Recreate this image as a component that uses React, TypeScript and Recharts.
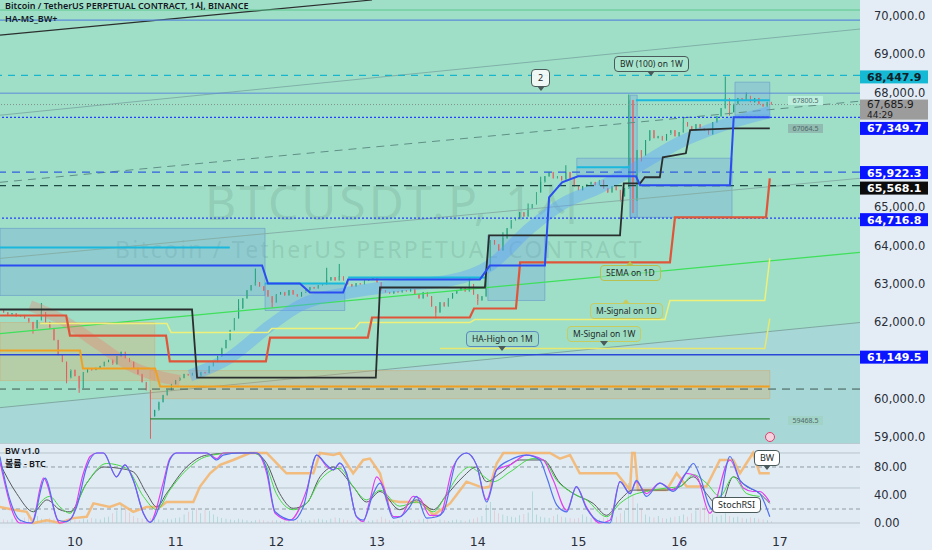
import React from "react";
import {
  ComposedChart,
  Bar,
  Line,
  Area,
  XAxis,
  YAxis,
  ReferenceLine,
  ReferenceArea,
  Cell,
} from "recharts";

// ---- price data (1h candles, hour 0 = day 10 00:00) ----
const firstOpen = 62300;
const closes = [
  62250, 62200, 62230, 62150, 62180, 62100, 62000, 61840, 62050, 62250,
  62000, 61840, 61530, 61140, 60960, 60540, 60750, 60590, 60280, 60690,
  60770, 60750, 60800, 60850, 60960, 61010, 60900, 61110, 61220, 61060,
  60960, 60800, 60640, 60430, 60220, 59540, 59700, 59910, 60090, 60220,
  60380, 60480, 60540, 60640, 60610, 60670, 60590, 60690, 60670, 60850,
  60960, 61110, 61320, 61530, 61790, 62100, 62360, 62620, 62830, 62960,
  63040, 62930, 62830, 62670, 62510, 62720, 62780, 62700, 62830, 62720,
  62670, 62780, 62830, 62910, 62880, 62960, 62990, 63090, 63170, 63090,
  63190, 63090, 62990, 62930, 63010, 62990, 63090, 63110, 63170, 63040,
  62830, 62780, 62750, 62800, 62780, 62830, 62800, 62860, 62720, 62620,
  62780, 62670, 62410, 62250, 62510, 62410, 62620, 62750, 62830, 62910,
  62800, 62990, 62720, 62570, 62670, 63350, 64130, 64030, 63870, 64190,
  64450, 64660, 64710, 64870, 64760, 64970, 65080, 65390, 65660, 65810,
  65920, 65760, 65810, 65710, 65920, 65760, 65550, 65450, 65550, 65600,
  65660, 65580, 65710, 65500, 65390, 65550, 65450, 65290, 65500, 67800,
  65180, 66490, 66360, 66750, 67010, 66810, 66860, 66750, 66910, 67010,
  66860, 66960, 67220, 67120, 67010, 67170, 67070, 67010, 66910, 67220,
  67380, 67590, 67850, 67490, 67700, 67850, 67800, 67910, 67750, 67850,
  67700, 67640, 67750, 67686,
];
const wickHigh: Record<number, number> = {
  9: 62500, 56: 62600, 60: 63400, 77: 63420, 80: 63520, 111: 63150, 115: 63400,
  119: 64350, 125: 65100, 128: 65800, 134: 66100, 149: 67950, 162: 67350,
  172: 68420, 177: 68000,
};
const wickLow: Record<number, number> = {
  7: 61700, 15: 60400, 18: 60150, 35: 58950, 64: 62380, 103: 62100, 113: 62450,
  147: 65150, 150: 64850, 152: 66200, 173: 67400,
};
const volumes = [
  5, 4, 6, 7, 5, 8, 9, 7, 10, 6, 5, 7, 6, 5, 4, 5, 6,
  5, 4, 6, 5, 7, 6, 5, 8, 9, 14, 18, 26, 22, 15, 10, 7, 6, 5, 7, 6, 5, 4, 6, 5,
  7, 8, 12, 16, 18, 21, 14, 19, 17, 12, 9, 7, 6, 5, 4, 6, 5, 4, 3, 4, 5, 4, 3, 4,
  4, 3, 5, 4, 3, 4, 5, 3, 4, 5, 6, 5, 4, 6, 8, 7, 5, 4, 3, 4, 5, 4, 3, 4,
  5, 9, 6, 4, 3, 4, 5, 4, 3, 4, 5, 6, 5, 4, 3, 5, 4, 3, 4, 5, 4, 3, 5, 6,
  8, 10, 26, 30, 18, 14, 12, 10, 9, 8, 11, 13, 15, 45, 12, 9, 8, 7, 10, 12, 9, 8, 7, 6,
  7, 12, 9, 7, 6, 5, 8, 7, 6, 9, 14, 18, 57, 40, 28, 20, 12, 9, 8, 10, 7, 6, 8, 9,
  10, 12, 9, 14, 18, 22, 25, 16, 12, 9, 11, 14, 10, 8, 9, 7, 6, 8, 7, 6, 5, 4, 3,
];

const dayTicks = [0, 24, 48, 72, 96, 120, 144, 168];
const dayLabels = ["10", "11", "12", "13", "14", "15", "16", "17"];
const priceTicks = [59000, 60000, 62000, 63000, 64000, 65000, 68000, 69000, 70000];
const oscTicks = [0, 40, 80];

// ---- indicator lines [hour, price] ----
const blackLine = [
  [-17.87, 62329], [27.9, 62329], [29.1, 60549], [71.7, 60549], [72.7, 62905],
  [97.7, 62905], [98.7, 64267], [129.9, 64267], [130.8, 65628], [134.7, 65628],
  [135.8, 65786], [139.4, 65786], [140.1, 66309], [145.6, 66413], [146.6, 67016],
  [156.8, 67064.5], [165.6, 67064.5],
];
const redLine = [
  [-17.87, 62172], [-2.1, 62172], [-1.2, 61649], [21.7, 61649], [22.6, 60974],
  [45.5, 60974], [46.5, 61596], [69.8, 61596], [70.8, 62120], [94.1, 62120],
  [95.1, 62355], [105.1, 62355], [106.1, 63560], [141.8, 63560], [143, 64738],
  [164.7, 64738], [165.6, 65759],
];
const signal1D = [
  [-8.3, 61963], [21.9, 61963], [22.9, 61727], [46, 61727], [46.9, 61832],
  [66.7, 61832], [67.9, 61989], [94.1, 61989], [95.3, 62068], [140.6, 62068],
  [141.8, 62565], [164.4, 62565], [165.6, 63665],
];
const signal1W = [[87, 61308], [164.4, 61308], [165.6, 62094]];
const orangeLine = [
  [-17.87, 61256], [1.2, 61256], [1.9, 60785], [19.1, 60785], [20.3, 60314], [165.6, 60314],
];
const blueLine = [
  [-17.87, 63481], [44.6, 63481], [46, 63010], [53.6, 63010], [56, 62774],
  [63.9, 62774], [65.1, 63115], [96.5, 63115], [98.9, 63481], [112, 63481],
  [113, 65262], [116.1, 65654], [119.9, 65811], [133.7, 65811], [134.7, 65576],
  [156.1, 65576], [157, 67356], [165.6, 67356],
];
const blueRibbon = [
  [27.4, 60602], [36.9, 61073], [46.5, 61910], [53.6, 62434], [65.5, 62774],
  [77.5, 62958], [89.4, 63089], [98.9, 63481], [108.4, 64450], [115.6, 65052],
  [125.1, 65523], [134.7, 66099], [144.2, 66701], [153.7, 67120], [165.6, 67487],
];
const redRibbon = [
  [-10.7, 62434], [-3.6, 62094], [6, 61387], [13.1, 60863], [20.3, 60575], [25, 60471],
];
const cyanSegments = [
  [-17.87, 36.9, 63953], [45.3, 64.3, 63010], [65.1, 97.7, 63167],
  [119.6, 132.3, 66047], [133.7, 165.6, 67800.5],
];
const trendLines = [
  { from: [-17.87, 69503], to: [70.8, 70419], color: "#2b2f2f", width: 1.2, dash: "" },
  { from: [-17.87, 67408], to: [187.1, 69660], color: "#7fb0a8", width: 1, dash: "" },
  { from: [-17.87, 65654], to: [187.1, 67775], color: "#5f8f86", width: 1, dash: "8 6" },
  { from: [-17.87, 63665], to: [187.1, 65759], color: "#86b0a8", width: 1, dash: "" },
  { from: [-17.87, 61701], to: [187.1, 63822], color: "#3ee05a", width: 1.3, dash: "" },
];
const lowerZone = [[-17.87, 59764], [187.1, 61989]];
const boxes = [
  [-17.87, 45.3, 64450, 62696],
  [45.3, 64.3, 63010, 62303],
  [98.4, 112, 64267, 62565],
  [119.6, 132.3, 66283, 65838],
  [132.3, 156.6, 66283, 64738],
  [132.3, 134, 67932, 64738],
  [157.3, 165.6, 68272, 67408],
];
const orangeBoxes = [
  [-17.87, 19, 61989, 60471],
  [17.9, 165.6, 60733, 59999],
];

// ---- oscillator pane [hour, value] ----
const stochBlue = [
  [-17.9, 95], [-15.5, 33], [-13.1, 4], [-10.3, 0], [-7.1, 64], [-4, 4], [-2, 2], [0.4, 23],
  [2.8, 80], [5.2, 100], [6.8, 100], [9.9, 66], [11.9, 83], [13.9, 61], [16.3, 14], [17.9, 1],
  [20.3, 28], [22.6, 90], [24.2, 100], [31.4, 100], [33.8, 90], [35.3, 97], [39.3, 100],
  [43.3, 100], [45.7, 76], [47.7, 16], [52, 4], [54.4, 23], [57.6, 97], [60, 83], [61.6, 76],
  [63.1, 86], [64.7, 71], [67.1, 9], [68.7, 4], [71.1, 42], [72.7, 57], [75.9, 7], [77.5, 9],
  [79.8, 23], [81.4, 38], [83.8, 7], [86.2, 9], [87.8, 16], [91, 90], [93.3, 100], [95.7, 83],
  [98.1, 30], [100.5, 76], [103.7, 90], [107.6, 97], [110.8, 90], [112.4, 66], [114.8, 26],
  [117.2, 16], [119.5, 52], [121.9, 21], [125.1, 2], [127.5, 0], [129.9, 59], [132.3, 42],
  [133.8, 61], [136.2, 38], [139.4, 57], [142.6, 45], [145.8, 73], [147.4, 85], [149, 66],
  [151.3, 23], [152.9, 16], [156.1, 95], [158.5, 61], [160.9, 50], [163.2, 42], [165.6, 9],
];
const stochMagenta = [
  [-17.9, 88], [-13.1, 0], [-10.3, 0], [-7.5, 64], [-3.6, 0], [-0.8, 7], [2, 71], [3.6, 95],
  [5.2, 100], [6.8, 100], [9.9, 66], [11.9, 83], [13.9, 61], [16.3, 14], [17.9, 1], [21, 57],
  [22.6, 92], [24.2, 100], [31.4, 100], [33.8, 92], [35.3, 100], [43.3, 100], [45.7, 71],
  [47.7, 14], [51.2, 4], [55.2, 47], [57.6, 97], [60, 81], [61.6, 76], [63.1, 85], [64.7, 71],
  [67.1, 9], [68.7, 2], [70.3, 33], [71.9, 66], [73.5, 52], [75.9, 9], [77.5, 9], [80.6, 38],
  [82.2, 35], [84.6, 11], [86.9, 11], [90.1, 80], [93.3, 100], [95.7, 83], [98.1, 33],
  [100.5, 76], [103.7, 83], [107.6, 97], [111.6, 90], [114, 61], [117.2, 18], [119.5, 52],
  [121.9, 23], [125.1, 0], [127.5, 4], [129.9, 59], [132.3, 42], [133.8, 59], [136.2, 42],
  [139.4, 57], [142.6, 47], [145.8, 71], [148.2, 66], [151.3, 14], [156.1, 90], [159.3, 50],
  [161.6, 45], [163.2, 45], [165.6, 30],
];
const stochGreen = [
  [-9.9, 16], [-6, 38], [-3.6, 23], [-1.2, 14], [2.8, 57], [7.5, 85], [12.3, 78], [16.3, 38],
  [19.5, 19], [22.6, 47], [26.6, 76], [31.4, 95], [37.7, 100], [42.5, 100], [45.7, 80],
  [48, 42], [52, 19], [55.2, 28], [58.4, 61], [63.1, 78], [66.3, 52], [69.5, 33], [72.7, 47],
  [77.4, 24], [81.4, 30], [85.4, 16], [88.6, 42], [91.8, 71], [94.1, 80], [96.5, 71],
  [99.7, 59], [103.7, 73], [109.2, 92], [111.6, 90], [114.8, 61], [118.8, 42], [121.9, 33],
  [126.7, 9], [129.9, 28], [133, 40], [136.2, 45], [141, 50], [144.2, 52], [147.4, 69],
  [150.5, 57], [153.7, 38], [156.9, 66], [160.1, 42], [163.2, 38],
];
const stochGray = [
  [-17.9, 85], [-13.9, 42], [-9.9, 16], [-6.7, 33], [-3.6, 19], [-1.2, 16], [2.8, 57],
  [6.8, 80], [10.7, 78], [13.9, 73], [17.1, 42], [19.5, 23], [21.8, 42], [26.6, 80],
  [31.4, 97], [37.7, 100], [42.5, 100], [45.7, 85], [48.8, 42], [52, 21], [55.2, 28],
  [58.4, 66], [61.6, 80], [66.3, 52], [69.5, 30], [72.7, 45], [77.4, 19], [81.4, 33],
  [85.4, 19], [88.6, 40], [92.5, 66], [95.7, 80], [98.1, 59], [101.3, 71], [106, 90],
  [111.6, 90], [115.6, 57], [118.8, 42], [123.5, 28], [126.7, 11], [129.9, 33], [133, 47],
  [141, 47], [144.2, 52], [147.4, 66], [150.5, 42], [153.7, 23], [156.9, 66], [160.1, 52],
  [163.2, 42], [165.6, 28],
];
const bwOrange = [
  [-17.9, 23], [-14.7, 19], [-11.5, 16], [-9.9, 0], [-6.7, 4], [-3.6, 0], [-0.4, 7], [2.8, 9],
  [4.4, 28], [8.3, 23], [10.7, 28], [13.9, 16], [17.1, 23], [20.3, 23], [21.8, 30], [28.2, 30],
  [29.8, 52], [32.2, 71], [34.6, 83], [37.7, 90], [41.7, 100], [45.7, 100], [47.3, 90],
  [50.4, 71], [56.8, 71], [58.4, 100], [61.6, 97], [63.1, 100], [66.3, 71], [68.7, 90],
  [70.3, 92], [72.7, 71], [74.3, 33], [77.4, 30], [82.2, 30], [83.8, 23], [85.4, 11],
  [89.4, 28], [93.3, 59], [97.3, 50], [98.9, 52], [100.5, 85], [102.1, 100], [113.2, 100],
  [115.6, 92], [118, 97], [120.3, 71], [129.1, 71], [132.3, 47], [132.8, 100], [133.4, 100],
  [134.2, 47], [141, 47], [143.4, 71], [145.8, 52], [150.5, 52], [153.7, 90], [156.9, 90],
  [158.5, 71], [161.6, 100], [163.2, 71], [165.6, 71],
];

// ---- layout ----
const X_MIN = -17.87;
const X_MAX = 187.1;
const MINT = "#9fdfc7";
const UP = "#1e9e78";
const UP_FILL = "#eafbf4";
const DOWN = "#e0605e";
const DOWN_FILL = "#f0a0aa";
const AXIS_TEXT = "#2a2e39";

const candles = closes.map((c, i) => {
  const o = i === 0 ? firstOpen : closes[i - 1];
  return {
    h: i - 17,
    o,
    c,
    hi: wickHigh[i] ?? Math.max(o, c),
    lo: wickLow[i] ?? Math.min(o, c),
    vol: volumes[i],
  };
});

const pts = (arr: number[][]) => arr.map(([h, p]) => ({ h, p }));

const Candle = (props: any) => {
  const { x, y, width, height, payload } = props;
  const { o, c, hi, lo } = payload;
  const up = c >= o;
  const k = hi === lo ? 0 : height / (hi - lo);
  const yo = y + (hi - o) * k;
  const yc = y + (hi - c) * k;
  const top = Math.min(yo, yc);
  const bh = Math.max(1, Math.abs(yo - yc));
  const cx = x + width / 2;
  return (
    <g>
      <line x1={cx} x2={cx} y1={y} y2={y + Math.max(height, 1)} stroke={up ? UP : DOWN} strokeWidth={1} />
      <rect x={x} y={top} width={width} height={bh} fill={up ? UP_FILL : DOWN_FILL} stroke={up ? UP : DOWN} strokeWidth={0.6} />
    </g>
  );
};

const priceTag = (text: string, bg: string, fg: string, dy = 0, sub?: string) => (props: any) => {
  const vb = props.viewBox || {};
  const x = (vb.x ?? 0) + (vb.width ?? 0);
  const y = (vb.y ?? 0) + dy;
  if (sub) {
    return (
      <g>
        <rect x={x} y={y - 5} width={68} height={20} fill={bg} />
        <text x={x + 7} y={y + 3.5} fill={fg} fontSize={10.5} fontFamily="DejaVu Sans">{text}</text>
        <text x={x + 7} y={y + 13.5} fill={fg} fontSize={9} fontFamily="DejaVu Sans">{sub}</text>
      </g>
    );
  }
  return (
    <g>
      <rect x={x} y={y - 6} width={68} height={13} fill={bg} />
      <text x={x + 7} y={y + 4.5} fill={fg} fontSize={11} fontFamily="DejaVu Sans" fontWeight={600}>{text}</text>
    </g>
  );
};

const fmtPrice = (v: number) =>
  v.toLocaleString("en-US", { minimumFractionDigits: 1, maximumFractionDigits: 1 });

const Bubble = ({ left, top, text, pointer, style }: any) => (
  <div
    style={{
      position: "absolute",
      left,
      top,
      padding: "1px 5px",
      fontSize: 8.5,
      lineHeight: "12px",
      color: "#1d2a2a",
      border: "1px solid #4a5a5a",
      borderRadius: 4,
      background: "rgba(170,230,205,0.9)",
      whiteSpace: "nowrap",
      ...style,
    }}
  >
    {text}
    {pointer === "down" && (
      <div style={{ position: "absolute", left: "50%", bottom: -5, marginLeft: -4, width: 0, height: 0, borderLeft: "4px solid transparent", borderRight: "4px solid transparent", borderTop: "5px solid #4a5a5a" }} />
    )}
    {pointer === "up" && (
      <div style={{ position: "absolute", left: "50%", top: -5, marginLeft: -4, width: 0, height: 0, borderLeft: "4px solid transparent", borderRight: "4px solid transparent", borderBottom: "5px solid " + (style?.borderColor || "#4a5a5a") }} />
    )}
  </div>
);

const SmallTag = ({ left, top, text, bg }: any) => (
  <div style={{ position: "absolute", left, top, width: 35, height: 9, fontSize: 7, lineHeight: "9px", textAlign: "center", color: "#4f6a6a", background: bg }}>
    {text}
  </div>
);

export default function App() {
  return (
    <div style={{ position: "absolute", left: 0, top: 0, width: 932, height: 550, background: "#e4edf5", overflow: "hidden", fontFamily: "'Noto Sans', 'Noto Sans CJK KR', sans-serif" }}>
      <div style={{ position: "absolute", left: 0, top: 0, width: 860, height: 443, background: MINT }} />
      <div style={{ position: "absolute", left: 0, top: 443, width: 860, height: 84, background: "#e1ebf3", borderTop: "1px solid #b9cbd0" }} />

      {/* watermark */}
      <div style={{ position: "absolute", left: 205, top: 178, fontSize: 48, lineHeight: "48px", letterSpacing: 3, color: "rgba(70,110,100,0.17)", whiteSpace: "nowrap" }}>
        BTCUSDT.P, 1시
      </div>
      <div style={{ position: "absolute", left: 115, top: 238, fontSize: 23, lineHeight: "23px", letterSpacing: 2.2, color: "rgba(70,110,100,0.17)", whiteSpace: "nowrap" }}>
        Bitcoin / TetherUS PERPETUAL CONTRACT
      </div>

      <div style={{ position: "absolute", left: 0, top: 0 }}>
        <ComposedChart width={932} height={443} data={candles} margin={{ top: 0, right: 0, bottom: 0, left: 0 }}>
          <XAxis dataKey="h" type="number" domain={[X_MIN, X_MAX]} allowDataOverflow hide />
          <YAxis
            orientation="right"
            width={72}
            domain={[58840, 70419]}
            allowDataOverflow
            ticks={priceTicks}
            interval={0}
            tickFormatter={fmtPrice}
            tickLine={false}
            axisLine={false}
            tickMargin={8}
            tick={{ fill: AXIS_TEXT, fontSize: 11.5, fontFamily: "DejaVu Sans" }}
          />
          <Area data={pts(lowerZone)} dataKey="p" type="linear" baseValue={58840} fill="#a7d7d6" fillOpacity={1} stroke="#7fa8a2" strokeWidth={1} isAnimationActive={false} dot={false} activeDot={false} />

          {orangeBoxes.map(([x1, x2, y1, y2], i) => (
            <ReferenceArea key={"ob" + i} x1={x1} x2={x2} y1={y1} y2={y2} fill="#e8a860" fillOpacity={0.3} stroke="#d8a060" strokeOpacity={0.4} />
          ))}
          {boxes.map(([x1, x2, y1, y2], i) => (
            <ReferenceArea key={"bx" + i} x1={x1} x2={x2} y1={y1} y2={y2} fill="#6a9ee0" fillOpacity={0.3} stroke="#5a86c8" strokeOpacity={0.45} />
          ))}

          {trendLines.map((t, i) => (
            <ReferenceLine key={"tl" + i} ifOverflow="hidden" segment={[{ x: t.from[0], y: t.from[1] }, { x: t.to[0], y: t.to[1] }]} stroke={t.color} strokeWidth={t.width} strokeDasharray={t.dash} />
          ))}

          <Line data={pts(redRibbon)} dataKey="p" type="monotone" stroke="#e88070" strokeOpacity={0.35} strokeWidth={11} dot={false} activeDot={false} isAnimationActive={false} />
          <Line data={pts(blueRibbon)} dataKey="p" type="monotone" stroke="#5aa0ff" strokeOpacity={0.4} strokeWidth={12} dot={false} activeDot={false} isAnimationActive={false} />

          <ReferenceLine y={70157} stroke="#5cc890" strokeWidth={1} />
          <ReferenceLine y={69895} stroke="#5b8bd9" strokeWidth={1.2} />
          <ReferenceLine y={68447.9} stroke="#19b5cc" strokeDasharray="7 6" strokeWidth={1.2} label={priceTag("68,447.9", "#16b9d4", "#102028", 1)} />
          <ReferenceLine y={67984} stroke="#5b8bd9" strokeWidth={1} />
          <ReferenceLine y={67685.9} stroke="#80908c" strokeDasharray="1 2" strokeWidth={1} label={priceTag("67,685.9", "#9c9c9c", "#1a1a1a", 0, "44:29")} />
          <ReferenceLine y={67349.7} stroke="#2040ff" strokeDasharray="2 2" strokeWidth={1.2} label={priceTag("67,349.7", "#0a14ff", "#ffffff", 10.5)} />
          <ReferenceLine y={65922.3} stroke="#3060e0" strokeDasharray="8 6" strokeWidth={1.2} label={priceTag("65,922.3", "#0a14ff", "#ffffff", 0)} />
          <ReferenceLine y={65568.1} stroke="#1f4a44" strokeDasharray="8 6" strokeWidth={1.2} label={priceTag("65,568.1", "#0c0c0c", "#ffffff", 2)} />
          <ReferenceLine y={64716.8} stroke="#2040ff" strokeDasharray="2 2" strokeWidth={1.2} label={priceTag("64,716.8", "#0a14ff", "#ffffff", 1)} />
          <ReferenceLine y={61149.5} stroke="#2a48d8" strokeWidth={1.5} label={priceTag("61,149.5", "#0a14ff", "#ffffff", 2)} />
          <ReferenceLine y={60250} stroke="#3f5a55" strokeDasharray="8 6" strokeWidth={1} />
          <ReferenceLine ifOverflow="hidden" segment={[{ x: 17.9, y: 59468.5 }, { x: 165.6, y: 59468.5 }]} stroke="#2e8b3e" strokeWidth={1.3} />

          {cyanSegments.map(([x1, x2, p], i) => (
            <ReferenceLine key={"cy" + i} ifOverflow="hidden" segment={[{ x: x1, y: p }, { x: x2, y: p }]} stroke="#1ab8dc" strokeWidth={2} />
          ))}

          <Line data={pts(orangeLine)} dataKey="p" type="linear" stroke="#f0a020" strokeWidth={2} dot={false} activeDot={false} isAnimationActive={false} />
          <Line data={pts(signal1W)} dataKey="p" type="linear" stroke="#e8e870" strokeWidth={1.5} dot={false} activeDot={false} isAnimationActive={false} />
          <Line data={pts(signal1D)} dataKey="p" type="linear" stroke="#eef07a" strokeWidth={1.5} dot={false} activeDot={false} isAnimationActive={false} />
          <Line data={pts(redLine)} dataKey="p" type="linear" stroke="#e0553a" strokeWidth={2.2} dot={false} activeDot={false} isAnimationActive={false} />
          <Line data={pts(blackLine)} dataKey="p" type="linear" stroke="#2a2e2e" strokeWidth={1.8} dot={false} activeDot={false} isAnimationActive={false} />
          <Line data={pts(blueLine)} dataKey="p" type="linear" stroke="#2a4cf0" strokeWidth={2} dot={false} activeDot={false} isAnimationActive={false} />

          <Bar dataKey={(d: any) => [d.lo, d.hi]} barSize={3} shape={Candle} isAnimationActive={false} />
        </ComposedChart>
      </div>

      <div style={{ position: "absolute", left: 0, top: 443 }}>
        <ComposedChart width={932} height={107} data={candles} margin={{ top: 2, right: 0, bottom: 0, left: 0 }}>
          <XAxis
            dataKey="h"
            type="number"
            domain={[X_MIN, X_MAX]}
            allowDataOverflow
            ticks={dayTicks}
            interval={0}
            tickFormatter={(v: number) => dayLabels[dayTicks.indexOf(v)] ?? ""}
            height={23}
            tickLine={false}
            axisLine={false}
            tickMargin={4}
            tick={{ fill: AXIS_TEXT, fontSize: 12.5, fontFamily: "DejaVu Sans" }}
          />
          <YAxis
            orientation="right"
            width={72}
            domain={[-5.7, 111.4]}
            allowDataOverflow
            ticks={oscTicks}
            interval={0}
            tickFormatter={(v: number) => v.toFixed(2)}
            tickLine={false}
            axisLine={false}
            tickMargin={8}
            tick={{ fill: AXIS_TEXT, fontSize: 11.5, fontFamily: "DejaVu Sans" }}
          />
          <ReferenceLine y={100} stroke="#b7c4cc" />
          <ReferenceLine y={50} stroke="#b7c4cc" />
          <ReferenceLine y={0} stroke="#b7c4cc" />
          <ReferenceLine y={80} stroke="#8f9ca5" strokeDasharray="4 3" />
          <ReferenceLine y={20} stroke="#8f9ca5" strokeDasharray="4 3" />
          <Bar dataKey="vol" barSize={3} isAnimationActive={false}>
            {candles.map((d, i) => (
              <Cell key={i} fill={d.c >= d.o ? "rgba(38,166,154,0.65)" : "rgba(239,110,130,0.6)"} />
            ))}
          </Bar>
          <Line data={pts(bwOrange)} dataKey="p" type="linear" stroke="#f5b46a" strokeOpacity={0.85} strokeWidth={2.5} dot={false} activeDot={false} isAnimationActive={false} />
          <Line data={pts(stochGray)} dataKey="p" type="monotone" stroke="#555a5e" strokeWidth={1} dot={false} activeDot={false} isAnimationActive={false} />
          <Line data={pts(stochGreen)} dataKey="p" type="monotone" stroke="#44d844" strokeWidth={1} dot={false} activeDot={false} isAnimationActive={false} />
          <Line data={pts(stochMagenta)} dataKey="p" type="monotone" stroke="#e040f0" strokeWidth={1.2} dot={false} activeDot={false} isAnimationActive={false} />
          <Line data={pts(stochBlue)} dataKey="p" type="monotone" stroke="#5070f0" strokeWidth={1.2} dot={false} activeDot={false} isAnimationActive={false} />
        </ComposedChart>
      </div>

      {/* overlays */}
      <div style={{ position: "absolute", left: 5, top: 1, fontSize: 9, lineHeight: "10px", fontWeight: 600, color: "#131722", whiteSpace: "nowrap" }}>
        Bitcoin / TetherUS PERPETUAL CONTRACT, 1시, BINANCE
      </div>
      <div style={{ position: "absolute", left: 5, top: 14, fontSize: 9, lineHeight: "10px", fontWeight: 600, color: "#131722" }}>HA-MS_BW+</div>

      <Bubble left={531} top={69} text="2" pointer="down" style={{ background: "rgba(245,250,248,0.92)", fontSize: 9, padding: "2px 6px" }} />
      <Bubble left={614} top={56} text="BW (100) on 1W" pointer="down" />
      <Bubble left={600} top={265} text="5EMA on 1D" pointer="up" style={{ background: "rgba(160,220,190,0.6)", borderColor: "#b8c050" }} />
      <Bubble left={590} top={303} text="M-Signal on 1D" pointer="up" style={{ background: "rgba(160,220,190,0.6)", borderColor: "#c8cc60" }} />
      <Bubble left={567} top={326} text="M-Signal on 1W" pointer="down" style={{ background: "rgba(160,220,190,0.6)", borderColor: "#c8cc60" }} />
      <Bubble left={466} top={331} text="HA-High on 1M" pointer="down" style={{ background: "rgba(160,215,200,0.6)", borderColor: "#5a8ac0" }} />

      <SmallTag left={788} top={96} text="67800.5" bg="rgba(190,238,222,0.95)" />
      <SmallTag left={788} top={124} text="67064.5" bg="rgba(140,175,168,0.75)" />
      <SmallTag left={788} top={416} text="59468.5" bg="rgba(160,210,195,0.85)" />
      <div style={{ position: "absolute", left: 765, top: 432, width: 8, height: 8, borderRadius: "50%", border: "1.5px solid #e04070", background: "#f6d2de" }} />

      <div style={{ position: "absolute", left: 5, top: 446, fontSize: 9, lineHeight: "10px", fontWeight: 600, color: "#131722" }}>BW v1.0</div>
      <div style={{ position: "absolute", left: 5, top: 459, fontSize: 9, lineHeight: "10px", fontWeight: 600, color: "#131722" }}>볼륨 - BTC</div>
      <Bubble left={754} top={450} text="BW" pointer="down" style={{ background: "#ffffff", fontSize: 9 }} />
      <Bubble left={712} top={497} text="StochRSI" style={{ background: "#ffffff", fontSize: 9 }} />
    </div>
  );
}
